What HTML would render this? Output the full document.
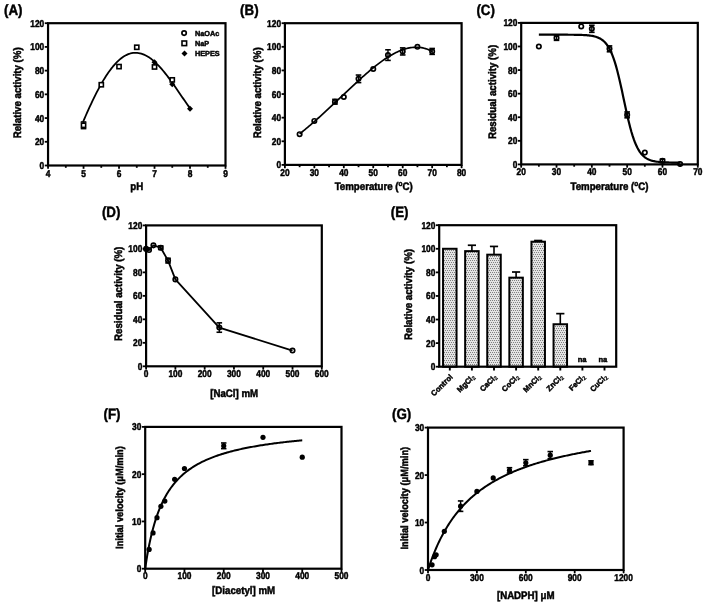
<!DOCTYPE html>
<html><head><meta charset="utf-8"><style>
html,body{margin:0;padding:0;background:#fff;}
svg{display:block;filter:blur(0.35px);text-rendering:geometricPrecision;}
text{font-family:"Liberation Sans",sans-serif;font-weight:bold;fill:#000;stroke:#000;stroke-width:0.45px;}
</style></head><body>
<svg width="706" height="604" viewBox="0 0 706 604">
<rect width="706" height="604" fill="#fff"/>
<text transform="translate(4,14.9) scale(0.92,1.02)" font-size="14.5">(A)</text>
<path d="M83.01 122.02 L84.36 118.87 L85.72 115.75 L87.07 112.68 L88.43 109.66 L89.78 106.69 L91.13 103.77 L92.49 100.91 L93.84 98.11 L95.2 95.37 L96.55 92.7 L97.91 90.09 L99.26 87.56 L100.62 85.11 L101.97 82.73 L103.32 80.42 L104.68 78.2 L106.03 76.07 L107.39 74.02 L108.74 72.05 L110.1 70.18 L111.45 68.39 L112.81 66.7 L114.16 65.1 L115.51 63.6 L116.87 62.19 L118.22 60.88 L119.58 59.66 L120.93 58.54 L122.29 57.52 L123.64 56.6 L125 55.78 L126.35 55.06 L127.7 54.44 L129.06 53.92 L130.41 53.49 L131.77 53.17 L133.12 52.95 L134.48 52.82 L135.83 52.79 L137.19 52.86 L138.54 53.02 L139.89 53.28 L141.25 53.63 L142.6 54.07 L143.96 54.6 L145.31 55.23 L146.67 55.94 L148.02 56.73 L149.38 57.61 L150.73 58.57 L152.09 59.61 L153.44 60.73 L154.79 61.92 L156.15 63.19 L157.5 64.52 L158.86 65.93 L160.21 67.39 L161.57 68.92 L162.92 70.5 L164.28 72.14 L165.63 73.83 L166.98 75.56 L168.34 77.34 L169.69 79.16 L171.05 81.02 L172.4 82.9 L173.76 84.82 L175.11 86.76 L176.47 88.71 L177.82 90.68 L179.17 92.67 L180.53 94.65 L181.88 96.64 L183.24 98.62 L184.59 100.59 L185.95 102.54 L187.3 104.48 L188.66 106.38 L190.01 108.26" fill="none" stroke="#000" stroke-width="1.8" stroke-linejoin="round"/>
<line x1="83.54" y1="128.62" x2="83.54" y2="121.98" stroke="#000" stroke-width="1.4"/>
<line x1="80.74" y1="128.62" x2="86.34" y2="128.62" stroke="#000" stroke-width="1.6"/>
<line x1="80.74" y1="121.98" x2="86.34" y2="121.98" stroke="#000" stroke-width="1.6"/>
<rect x="81.44" y="123.2" width="4.2" height="4.2" fill="#fff" stroke="#000" stroke-width="1.6"/>
<rect x="99.19" y="82.64" width="4.2" height="4.2" fill="#fff" stroke="#000" stroke-width="1.6"/>
<rect x="116.93" y="64.5" width="4.2" height="4.2" fill="#fff" stroke="#000" stroke-width="1.6"/>
<rect x="134.67" y="45.17" width="4.2" height="4.2" fill="#fff" stroke="#000" stroke-width="1.6"/>
<rect x="152.42" y="64.86" width="4.2" height="4.2" fill="#fff" stroke="#000" stroke-width="1.6"/>
<rect x="170.16" y="77.78" width="4.2" height="4.2" fill="#fff" stroke="#000" stroke-width="1.6"/>
<path d="M154.52 59.33L157.52 62.33L154.52 65.33L151.52 62.33Z" fill="#000"/>
<path d="M172.26 81.15L175.26 84.15L172.26 87.15L169.26 84.15Z" fill="#000"/>
<path d="M190.01 105.82L193.01 108.82L190.01 111.82L187.01 108.82Z" fill="#000"/>
<rect x="48.05" y="23.2" width="177.45" height="142.3" fill="none" stroke="#000" stroke-width="2.2"/>
<line x1="44.75" y1="165.5" x2="48.05" y2="165.5" stroke="#000" stroke-width="1.8"/>
<text transform="translate(44.25,169) scale(0.93,1.1)" font-size="9.0" text-anchor="end">0</text>
<line x1="44.75" y1="141.78" x2="48.05" y2="141.78" stroke="#000" stroke-width="1.8"/>
<text transform="translate(44.25,145.28) scale(0.93,1.1)" font-size="9.0" text-anchor="end">20</text>
<line x1="44.75" y1="118.07" x2="48.05" y2="118.07" stroke="#000" stroke-width="1.8"/>
<text transform="translate(44.25,121.57) scale(0.93,1.1)" font-size="9.0" text-anchor="end">40</text>
<line x1="44.75" y1="94.35" x2="48.05" y2="94.35" stroke="#000" stroke-width="1.8"/>
<text transform="translate(44.25,97.85) scale(0.93,1.1)" font-size="9.0" text-anchor="end">60</text>
<line x1="44.75" y1="70.63" x2="48.05" y2="70.63" stroke="#000" stroke-width="1.8"/>
<text transform="translate(44.25,74.13) scale(0.93,1.1)" font-size="9.0" text-anchor="end">80</text>
<line x1="44.75" y1="46.92" x2="48.05" y2="46.92" stroke="#000" stroke-width="1.8"/>
<text transform="translate(44.25,50.42) scale(0.93,1.1)" font-size="9.0" text-anchor="end">100</text>
<line x1="44.75" y1="23.2" x2="48.05" y2="23.2" stroke="#000" stroke-width="1.8"/>
<text transform="translate(44.25,26.7) scale(0.93,1.1)" font-size="9.0" text-anchor="end">120</text>
<line x1="48.05" y1="165.5" x2="48.05" y2="168.8" stroke="#000" stroke-width="1.8"/>
<text transform="translate(48.05,177.2) scale(0.93,1.1)" font-size="9.0" text-anchor="middle">4</text>
<line x1="83.54" y1="165.5" x2="83.54" y2="168.8" stroke="#000" stroke-width="1.8"/>
<text transform="translate(83.54,177.2) scale(0.93,1.1)" font-size="9.0" text-anchor="middle">5</text>
<line x1="119.03" y1="165.5" x2="119.03" y2="168.8" stroke="#000" stroke-width="1.8"/>
<text transform="translate(119.03,177.2) scale(0.93,1.1)" font-size="9.0" text-anchor="middle">6</text>
<line x1="154.52" y1="165.5" x2="154.52" y2="168.8" stroke="#000" stroke-width="1.8"/>
<text transform="translate(154.52,177.2) scale(0.93,1.1)" font-size="9.0" text-anchor="middle">7</text>
<line x1="190.01" y1="165.5" x2="190.01" y2="168.8" stroke="#000" stroke-width="1.8"/>
<text transform="translate(190.01,177.2) scale(0.93,1.1)" font-size="9.0" text-anchor="middle">8</text>
<line x1="225.5" y1="165.5" x2="225.5" y2="168.8" stroke="#000" stroke-width="1.8"/>
<text transform="translate(225.5,177.2) scale(0.93,1.1)" font-size="9.0" text-anchor="middle">9</text>
<line x1="65.8" y1="165.5" x2="65.8" y2="167.8" stroke="#000" stroke-width="1.8"/>
<line x1="101.28" y1="165.5" x2="101.28" y2="167.8" stroke="#000" stroke-width="1.8"/>
<line x1="136.77" y1="165.5" x2="136.77" y2="167.8" stroke="#000" stroke-width="1.8"/>
<line x1="172.26" y1="165.5" x2="172.26" y2="167.8" stroke="#000" stroke-width="1.8"/>
<line x1="207.75" y1="165.5" x2="207.75" y2="167.8" stroke="#000" stroke-width="1.8"/>
<text transform="translate(21.2,92.8) rotate(-90) scale(1,1.12)" font-size="9.7" text-anchor="middle">Relative activity (%)</text>
<text transform="translate(136.8,189.9) scale(1,1.12)" font-size="9.7" text-anchor="middle">pH</text>
<circle cx="184.1" cy="33.1" r="2.2" fill="none" stroke="#000" stroke-width="1.7"/>
<rect x="182" y="41" width="4.6" height="4.6" fill="none" stroke="#000" stroke-width="1.6"/>
<path d="M184.5 50.5L187.5 53.5L184.5 56.5L181.5 53.5Z" fill="#000"/>
<text x="194.9" y="35.8" font-size="7.3">NaOAc</text>
<text x="194.9" y="45.9" font-size="7.3">NaP</text>
<text x="194.9" y="56.0" font-size="7.3">HEPES</text>
<text transform="translate(240.1,15) scale(0.92,1.02)" font-size="14.5">(B)</text>
<path d="M299.62 133.93 L300.96 132.85 L302.3 131.76 L303.64 130.67 L304.98 129.56 L306.32 128.45 L307.66 127.32 L309 126.19 L310.33 125.04 L311.67 123.89 L313.01 122.73 L314.35 121.56 L315.69 120.39 L317.03 119.2 L318.37 118.01 L319.7 116.81 L321.04 115.6 L322.38 114.39 L323.72 113.17 L325.06 111.94 L326.4 110.71 L327.74 109.47 L329.07 108.23 L330.41 106.98 L331.75 105.73 L333.09 104.47 L334.43 103.22 L335.77 101.95 L337.11 100.69 L338.45 99.43 L339.78 98.16 L341.12 96.89 L342.46 95.62 L343.8 94.35 L345.14 93.09 L346.48 91.82 L347.82 90.56 L349.15 89.3 L350.49 88.04 L351.83 86.78 L353.17 85.53 L354.51 84.29 L355.85 83.05 L357.19 81.82 L358.52 80.59 L359.86 79.37 L361.2 78.17 L362.54 76.97 L363.88 75.78 L365.22 74.6 L366.56 73.43 L367.9 72.28 L369.23 71.14 L370.57 70.01 L371.91 68.9 L373.25 67.81 L374.59 66.73 L375.93 65.67 L377.27 64.63 L378.6 63.61 L379.94 62.6 L381.28 61.62 L382.62 60.67 L383.96 59.73 L385.3 58.83 L386.64 57.94 L387.98 57.09 L389.31 56.26 L390.65 55.46 L391.99 54.69 L393.33 53.95 L394.67 53.24 L396.01 52.57 L397.35 51.93 L398.68 51.32 L400.02 50.75 L401.36 50.22 L402.7 49.73 L404.04 49.28 L405.38 48.87 L406.72 48.51 L408.05 48.18 L409.39 47.91 L410.73 47.68 L412.07 47.49 L413.41 47.36 L414.75 47.28 L416.09 47.25 L417.43 47.27 L418.76 47.35 L420.1 47.48 L421.44 47.67 L422.78 47.92 L424.12 48.23 L425.46 48.6 L426.8 49.03 L428.13 49.53 L429.47 50.1 L430.81 50.73 L432.15 51.44" fill="none" stroke="#000" stroke-width="1.7" stroke-linejoin="round"/>
<circle cx="299.62" cy="134.2" r="2.2" fill="none" stroke="#000" stroke-width="1.7"/>
<circle cx="314.35" cy="120.97" r="2.2" fill="none" stroke="#000" stroke-width="1.7"/>
<line x1="334.96" y1="104.09" x2="334.96" y2="99.36" stroke="#000" stroke-width="1.4"/>
<line x1="332.16" y1="104.09" x2="337.76" y2="104.09" stroke="#000" stroke-width="1.6"/>
<line x1="332.16" y1="99.36" x2="337.76" y2="99.36" stroke="#000" stroke-width="1.6"/>
<circle cx="334.96" cy="101.73" r="2.2" fill="none" stroke="#000" stroke-width="1.7"/>
<circle cx="343.8" cy="97" r="2.2" fill="none" stroke="#000" stroke-width="1.7"/>
<line x1="358.52" y1="82.6" x2="358.52" y2="75.04" stroke="#000" stroke-width="1.4"/>
<line x1="355.72" y1="82.6" x2="361.32" y2="82.6" stroke="#000" stroke-width="1.6"/>
<line x1="355.72" y1="75.04" x2="361.32" y2="75.04" stroke="#000" stroke-width="1.6"/>
<circle cx="358.52" cy="78.82" r="2.2" fill="none" stroke="#000" stroke-width="1.7"/>
<circle cx="373.25" cy="69.02" r="2.2" fill="none" stroke="#000" stroke-width="1.7"/>
<line x1="387.98" y1="60.4" x2="387.98" y2="49.77" stroke="#000" stroke-width="1.4"/>
<line x1="385.18" y1="60.4" x2="390.78" y2="60.4" stroke="#000" stroke-width="1.6"/>
<line x1="385.18" y1="49.77" x2="390.78" y2="49.77" stroke="#000" stroke-width="1.6"/>
<circle cx="387.98" cy="55.08" r="2.2" fill="none" stroke="#000" stroke-width="1.7"/>
<line x1="402.7" y1="54.96" x2="402.7" y2="47.88" stroke="#000" stroke-width="1.4"/>
<line x1="399.9" y1="54.96" x2="405.5" y2="54.96" stroke="#000" stroke-width="1.6"/>
<line x1="399.9" y1="47.88" x2="405.5" y2="47.88" stroke="#000" stroke-width="1.6"/>
<circle cx="402.7" cy="51.42" r="2.2" fill="none" stroke="#000" stroke-width="1.7"/>
<circle cx="417.43" cy="46.82" r="2.2" fill="none" stroke="#000" stroke-width="1.7"/>
<line x1="432.15" y1="54.37" x2="432.15" y2="48.47" stroke="#000" stroke-width="1.4"/>
<line x1="429.35" y1="54.37" x2="434.95" y2="54.37" stroke="#000" stroke-width="1.6"/>
<line x1="429.35" y1="48.47" x2="434.95" y2="48.47" stroke="#000" stroke-width="1.6"/>
<circle cx="432.15" cy="51.42" r="2.2" fill="none" stroke="#000" stroke-width="1.7"/>
<rect x="284.9" y="23.2" width="176.7" height="141.7" fill="none" stroke="#000" stroke-width="2.2"/>
<line x1="281.6" y1="164.9" x2="284.9" y2="164.9" stroke="#000" stroke-width="1.8"/>
<text transform="translate(281.1,168.4) scale(0.93,1.1)" font-size="9.0" text-anchor="end">0</text>
<line x1="281.6" y1="141.28" x2="284.9" y2="141.28" stroke="#000" stroke-width="1.8"/>
<text transform="translate(281.1,144.78) scale(0.93,1.1)" font-size="9.0" text-anchor="end">20</text>
<line x1="281.6" y1="117.67" x2="284.9" y2="117.67" stroke="#000" stroke-width="1.8"/>
<text transform="translate(281.1,121.17) scale(0.93,1.1)" font-size="9.0" text-anchor="end">40</text>
<line x1="281.6" y1="94.05" x2="284.9" y2="94.05" stroke="#000" stroke-width="1.8"/>
<text transform="translate(281.1,97.55) scale(0.93,1.1)" font-size="9.0" text-anchor="end">60</text>
<line x1="281.6" y1="70.43" x2="284.9" y2="70.43" stroke="#000" stroke-width="1.8"/>
<text transform="translate(281.1,73.93) scale(0.93,1.1)" font-size="9.0" text-anchor="end">80</text>
<line x1="281.6" y1="46.82" x2="284.9" y2="46.82" stroke="#000" stroke-width="1.8"/>
<text transform="translate(281.1,50.32) scale(0.93,1.1)" font-size="9.0" text-anchor="end">100</text>
<line x1="281.6" y1="23.2" x2="284.9" y2="23.2" stroke="#000" stroke-width="1.8"/>
<text transform="translate(281.1,26.7) scale(0.93,1.1)" font-size="9.0" text-anchor="end">120</text>
<line x1="284.9" y1="164.9" x2="284.9" y2="168.2" stroke="#000" stroke-width="1.8"/>
<text transform="translate(284.9,175.9) scale(0.93,1.1)" font-size="9.0" text-anchor="middle">20</text>
<line x1="314.35" y1="164.9" x2="314.35" y2="168.2" stroke="#000" stroke-width="1.8"/>
<text transform="translate(314.35,175.9) scale(0.93,1.1)" font-size="9.0" text-anchor="middle">30</text>
<line x1="343.8" y1="164.9" x2="343.8" y2="168.2" stroke="#000" stroke-width="1.8"/>
<text transform="translate(343.8,175.9) scale(0.93,1.1)" font-size="9.0" text-anchor="middle">40</text>
<line x1="373.25" y1="164.9" x2="373.25" y2="168.2" stroke="#000" stroke-width="1.8"/>
<text transform="translate(373.25,175.9) scale(0.93,1.1)" font-size="9.0" text-anchor="middle">50</text>
<line x1="402.7" y1="164.9" x2="402.7" y2="168.2" stroke="#000" stroke-width="1.8"/>
<text transform="translate(402.7,175.9) scale(0.93,1.1)" font-size="9.0" text-anchor="middle">60</text>
<line x1="432.15" y1="164.9" x2="432.15" y2="168.2" stroke="#000" stroke-width="1.8"/>
<text transform="translate(432.15,175.9) scale(0.93,1.1)" font-size="9.0" text-anchor="middle">70</text>
<line x1="461.6" y1="164.9" x2="461.6" y2="168.2" stroke="#000" stroke-width="1.8"/>
<text transform="translate(461.6,175.9) scale(0.93,1.1)" font-size="9.0" text-anchor="middle">80</text>
<line x1="299.62" y1="164.9" x2="299.62" y2="167.2" stroke="#000" stroke-width="1.8"/>
<line x1="329.07" y1="164.9" x2="329.07" y2="167.2" stroke="#000" stroke-width="1.8"/>
<line x1="358.52" y1="164.9" x2="358.52" y2="167.2" stroke="#000" stroke-width="1.8"/>
<line x1="387.98" y1="164.9" x2="387.98" y2="167.2" stroke="#000" stroke-width="1.8"/>
<line x1="417.43" y1="164.9" x2="417.43" y2="167.2" stroke="#000" stroke-width="1.8"/>
<line x1="446.88" y1="164.9" x2="446.88" y2="167.2" stroke="#000" stroke-width="1.8"/>
<text transform="translate(261,92.8) rotate(-90) scale(1,1.12)" font-size="9.7" text-anchor="middle">Relative activity (%)</text>
<text transform="translate(373.7,190.4) scale(1,1.12)" font-size="9.7" text-anchor="middle">Temperature (<tspan font-size="6.5" dy="-3.5">o</tspan><tspan dy="3.5">C)</tspan></text>
<text transform="translate(476.4,14.9) scale(0.92,1.02)" font-size="14.5">(C)</text>
<path d="M538.86 34.69 L540.05 34.69 L541.23 34.69 L542.42 34.69 L543.61 34.69 L544.8 34.69 L545.98 34.69 L547.17 34.69 L548.36 34.69 L549.55 34.69 L550.73 34.69 L551.92 34.69 L553.11 34.7 L554.29 34.7 L555.48 34.7 L556.67 34.7 L557.86 34.7 L559.04 34.7 L560.23 34.7 L561.42 34.7 L562.6 34.71 L563.79 34.71 L564.98 34.71 L566.17 34.72 L567.35 34.72 L568.54 34.73 L569.73 34.74 L570.92 34.75 L572.1 34.76 L573.29 34.77 L574.48 34.78 L575.66 34.8 L576.85 34.82 L578.04 34.85 L579.23 34.87 L580.41 34.91 L581.6 34.95 L582.79 35 L583.97 35.06 L585.16 35.13 L586.35 35.21 L587.54 35.31 L588.72 35.43 L589.91 35.57 L591.1 35.74 L592.29 35.94 L593.47 36.17 L594.66 36.45 L595.85 36.78 L597.03 37.18 L598.22 37.64 L599.41 38.19 L600.6 38.84 L601.78 39.6 L602.97 40.5 L604.16 41.55 L605.34 42.78 L606.53 44.21 L607.72 45.87 L608.91 47.79 L610.09 50 L611.28 52.52 L612.47 55.38 L613.66 58.6 L614.84 62.19 L616.03 66.16 L617.22 70.49 L618.4 75.17 L619.59 80.17 L620.78 85.42 L621.97 90.86 L623.15 96.42 L624.34 102.02 L625.53 107.56 L626.71 112.97 L627.9 118.18 L629.09 123.11 L630.28 127.73 L631.46 131.99 L632.65 135.88 L633.84 139.4 L635.03 142.54 L636.21 145.33 L637.4 147.79 L638.59 149.94 L639.77 151.8 L640.96 153.42 L642.15 154.81 L643.34 156 L644.52 157.02 L645.71 157.88 L646.9 158.62 L648.08 159.25 L649.27 159.78 L650.46 160.23 L651.65 160.61 L652.83 160.93 L654.02 161.2 L655.21 161.43 L656.4 161.62 L657.58 161.78 L658.77 161.92 L659.96 162.03 L661.14 162.13 L662.33 162.21 L663.52 162.28 L664.71 162.33 L665.89 162.38 L667.08 162.42 L668.27 162.45 L669.45 162.48 L670.64 162.51 L671.83 162.53 L673.02 162.54 L674.2 162.56 L675.39 162.57 L676.58 162.58 L677.77 162.59 L678.95 162.59 L680.14 162.6" fill="none" stroke="#000" stroke-width="2.2" stroke-linejoin="round"/>
<circle cx="538.86" cy="46.48" r="2.2" fill="none" stroke="#000" stroke-width="1.7"/>
<line x1="556.52" y1="40.35" x2="556.52" y2="35.63" stroke="#000" stroke-width="1.4"/>
<line x1="553.72" y1="40.35" x2="559.32" y2="40.35" stroke="#000" stroke-width="1.6"/>
<line x1="553.72" y1="35.63" x2="559.32" y2="35.63" stroke="#000" stroke-width="1.6"/>
<circle cx="556.52" cy="37.99" r="2.2" fill="none" stroke="#000" stroke-width="1.7"/>
<circle cx="581.24" cy="26.44" r="2.2" fill="none" stroke="#000" stroke-width="1.7"/>
<line x1="591.84" y1="32.33" x2="591.84" y2="25.26" stroke="#000" stroke-width="1.4"/>
<line x1="589.04" y1="32.33" x2="594.64" y2="32.33" stroke="#000" stroke-width="1.6"/>
<line x1="589.04" y1="25.26" x2="594.64" y2="25.26" stroke="#000" stroke-width="1.6"/>
<circle cx="591.84" cy="28.8" r="2.2" fill="none" stroke="#000" stroke-width="1.7"/>
<line x1="609.5" y1="51.79" x2="609.5" y2="45.89" stroke="#000" stroke-width="1.4"/>
<line x1="606.7" y1="51.79" x2="612.3" y2="51.79" stroke="#000" stroke-width="1.6"/>
<line x1="606.7" y1="45.89" x2="612.3" y2="45.89" stroke="#000" stroke-width="1.6"/>
<circle cx="609.5" cy="48.84" r="2.2" fill="none" stroke="#000" stroke-width="1.7"/>
<line x1="627.16" y1="117.82" x2="627.16" y2="111.93" stroke="#000" stroke-width="1.4"/>
<line x1="624.36" y1="117.82" x2="629.96" y2="117.82" stroke="#000" stroke-width="1.6"/>
<line x1="624.36" y1="111.93" x2="629.96" y2="111.93" stroke="#000" stroke-width="1.6"/>
<circle cx="627.16" cy="114.88" r="2.2" fill="none" stroke="#000" stroke-width="1.7"/>
<circle cx="644.82" cy="152.61" r="2.2" fill="none" stroke="#000" stroke-width="1.7"/>
<line x1="662.48" y1="162.63" x2="662.48" y2="159.09" stroke="#000" stroke-width="1.4"/>
<line x1="659.68" y1="162.63" x2="665.28" y2="162.63" stroke="#000" stroke-width="1.6"/>
<line x1="659.68" y1="159.09" x2="665.28" y2="159.09" stroke="#000" stroke-width="1.6"/>
<circle cx="662.48" cy="160.86" r="2.2" fill="none" stroke="#000" stroke-width="1.7"/>
<circle cx="680.14" cy="164.05" r="2.2" fill="none" stroke="#000" stroke-width="1.7"/>
<rect x="521.2" y="22.9" width="176.6" height="141.5" fill="none" stroke="#000" stroke-width="2.2"/>
<line x1="517.9" y1="164.4" x2="521.2" y2="164.4" stroke="#000" stroke-width="1.8"/>
<text transform="translate(517.4,167.9) scale(0.93,1.1)" font-size="9.0" text-anchor="end">0</text>
<line x1="517.9" y1="140.82" x2="521.2" y2="140.82" stroke="#000" stroke-width="1.8"/>
<text transform="translate(517.4,144.32) scale(0.93,1.1)" font-size="9.0" text-anchor="end">20</text>
<line x1="517.9" y1="117.23" x2="521.2" y2="117.23" stroke="#000" stroke-width="1.8"/>
<text transform="translate(517.4,120.73) scale(0.93,1.1)" font-size="9.0" text-anchor="end">40</text>
<line x1="517.9" y1="93.65" x2="521.2" y2="93.65" stroke="#000" stroke-width="1.8"/>
<text transform="translate(517.4,97.15) scale(0.93,1.1)" font-size="9.0" text-anchor="end">60</text>
<line x1="517.9" y1="70.07" x2="521.2" y2="70.07" stroke="#000" stroke-width="1.8"/>
<text transform="translate(517.4,73.57) scale(0.93,1.1)" font-size="9.0" text-anchor="end">80</text>
<line x1="517.9" y1="46.48" x2="521.2" y2="46.48" stroke="#000" stroke-width="1.8"/>
<text transform="translate(517.4,49.98) scale(0.93,1.1)" font-size="9.0" text-anchor="end">100</text>
<line x1="517.9" y1="22.9" x2="521.2" y2="22.9" stroke="#000" stroke-width="1.8"/>
<text transform="translate(517.4,26.4) scale(0.93,1.1)" font-size="9.0" text-anchor="end">120</text>
<line x1="521.2" y1="164.4" x2="521.2" y2="167.7" stroke="#000" stroke-width="1.8"/>
<text transform="translate(521.2,175.2) scale(0.93,1.1)" font-size="9.0" text-anchor="middle">20</text>
<line x1="556.52" y1="164.4" x2="556.52" y2="167.7" stroke="#000" stroke-width="1.8"/>
<text transform="translate(556.52,175.2) scale(0.93,1.1)" font-size="9.0" text-anchor="middle">30</text>
<line x1="591.84" y1="164.4" x2="591.84" y2="167.7" stroke="#000" stroke-width="1.8"/>
<text transform="translate(591.84,175.2) scale(0.93,1.1)" font-size="9.0" text-anchor="middle">40</text>
<line x1="627.16" y1="164.4" x2="627.16" y2="167.7" stroke="#000" stroke-width="1.8"/>
<text transform="translate(627.16,175.2) scale(0.93,1.1)" font-size="9.0" text-anchor="middle">50</text>
<line x1="662.48" y1="164.4" x2="662.48" y2="167.7" stroke="#000" stroke-width="1.8"/>
<text transform="translate(662.48,175.2) scale(0.93,1.1)" font-size="9.0" text-anchor="middle">60</text>
<line x1="697.8" y1="164.4" x2="697.8" y2="167.7" stroke="#000" stroke-width="1.8"/>
<text transform="translate(697.8,175.2) scale(0.93,1.1)" font-size="9.0" text-anchor="middle">70</text>
<line x1="538.86" y1="164.4" x2="538.86" y2="166.7" stroke="#000" stroke-width="1.8"/>
<line x1="574.18" y1="164.4" x2="574.18" y2="166.7" stroke="#000" stroke-width="1.8"/>
<line x1="609.5" y1="164.4" x2="609.5" y2="166.7" stroke="#000" stroke-width="1.8"/>
<line x1="644.82" y1="164.4" x2="644.82" y2="166.7" stroke="#000" stroke-width="1.8"/>
<line x1="680.14" y1="164.4" x2="680.14" y2="166.7" stroke="#000" stroke-width="1.8"/>
<text transform="translate(496.2,92) rotate(-90) scale(1,1.12)" font-size="9.7" text-anchor="middle">Residual activity (%)</text>
<text transform="translate(609.5,189.8) scale(1,1.12)" font-size="9.7" text-anchor="middle">Temperature (<tspan font-size="6.5" dy="-3.5">o</tspan><tspan dy="3.5">C)</tspan></text>
<text transform="translate(101.9,216.7) scale(0.92,1.02)" font-size="14.5">(D)</text>
<path d="M146.1 248.88 L149.03 250.06 L153.42 245.36 L160.74 247.71 L168.06 260.62 L175.38 279.41 L219.31 327.55 L292.52 350.57" fill="none" stroke="#000" stroke-width="1.8" stroke-linejoin="round"/>
<circle cx="146.1" cy="248.88" r="2.2" fill="none" stroke="#000" stroke-width="1.7"/>
<circle cx="149.03" cy="250.06" r="2.2" fill="none" stroke="#000" stroke-width="1.7"/>
<circle cx="153.42" cy="245.36" r="2.2" fill="none" stroke="#000" stroke-width="1.7"/>
<line x1="160.74" y1="249.47" x2="160.74" y2="245.95" stroke="#000" stroke-width="1.4"/>
<line x1="157.94" y1="249.47" x2="163.54" y2="249.47" stroke="#000" stroke-width="1.6"/>
<line x1="157.94" y1="245.95" x2="163.54" y2="245.95" stroke="#000" stroke-width="1.6"/>
<circle cx="160.74" cy="247.71" r="2.2" fill="none" stroke="#000" stroke-width="1.7"/>
<line x1="168.06" y1="262.97" x2="168.06" y2="258.28" stroke="#000" stroke-width="1.4"/>
<line x1="165.26" y1="262.97" x2="170.86" y2="262.97" stroke="#000" stroke-width="1.6"/>
<line x1="165.26" y1="258.28" x2="170.86" y2="258.28" stroke="#000" stroke-width="1.6"/>
<circle cx="168.06" cy="260.62" r="2.2" fill="none" stroke="#000" stroke-width="1.7"/>
<circle cx="175.38" cy="279.41" r="2.2" fill="none" stroke="#000" stroke-width="1.7"/>
<line x1="219.31" y1="332.25" x2="219.31" y2="322.86" stroke="#000" stroke-width="1.4"/>
<line x1="216.51" y1="332.25" x2="222.11" y2="332.25" stroke="#000" stroke-width="1.6"/>
<line x1="216.51" y1="322.86" x2="222.11" y2="322.86" stroke="#000" stroke-width="1.6"/>
<circle cx="219.31" cy="327.55" r="2.2" fill="none" stroke="#000" stroke-width="1.7"/>
<circle cx="292.52" cy="350.57" r="2.2" fill="none" stroke="#000" stroke-width="1.7"/>
<rect x="146.1" y="225.4" width="175.7" height="140.9" fill="none" stroke="#000" stroke-width="2.2"/>
<line x1="142.8" y1="366.3" x2="146.1" y2="366.3" stroke="#000" stroke-width="1.8"/>
<text transform="translate(142.3,369.8) scale(0.93,1.1)" font-size="9.0" text-anchor="end">0</text>
<line x1="142.8" y1="342.82" x2="146.1" y2="342.82" stroke="#000" stroke-width="1.8"/>
<text transform="translate(142.3,346.32) scale(0.93,1.1)" font-size="9.0" text-anchor="end">20</text>
<line x1="142.8" y1="319.33" x2="146.1" y2="319.33" stroke="#000" stroke-width="1.8"/>
<text transform="translate(142.3,322.83) scale(0.93,1.1)" font-size="9.0" text-anchor="end">40</text>
<line x1="142.8" y1="295.85" x2="146.1" y2="295.85" stroke="#000" stroke-width="1.8"/>
<text transform="translate(142.3,299.35) scale(0.93,1.1)" font-size="9.0" text-anchor="end">60</text>
<line x1="142.8" y1="272.37" x2="146.1" y2="272.37" stroke="#000" stroke-width="1.8"/>
<text transform="translate(142.3,275.87) scale(0.93,1.1)" font-size="9.0" text-anchor="end">80</text>
<line x1="142.8" y1="248.88" x2="146.1" y2="248.88" stroke="#000" stroke-width="1.8"/>
<text transform="translate(142.3,252.38) scale(0.93,1.1)" font-size="9.0" text-anchor="end">100</text>
<line x1="142.8" y1="225.4" x2="146.1" y2="225.4" stroke="#000" stroke-width="1.8"/>
<text transform="translate(142.3,228.9) scale(0.93,1.1)" font-size="9.0" text-anchor="end">120</text>
<line x1="146.1" y1="366.3" x2="146.1" y2="369.6" stroke="#000" stroke-width="1.8"/>
<text transform="translate(146.1,377) scale(0.93,1.1)" font-size="9.0" text-anchor="middle">0</text>
<line x1="175.38" y1="366.3" x2="175.38" y2="369.6" stroke="#000" stroke-width="1.8"/>
<text transform="translate(175.38,377) scale(0.93,1.1)" font-size="9.0" text-anchor="middle">100</text>
<line x1="204.67" y1="366.3" x2="204.67" y2="369.6" stroke="#000" stroke-width="1.8"/>
<text transform="translate(204.67,377) scale(0.93,1.1)" font-size="9.0" text-anchor="middle">200</text>
<line x1="233.95" y1="366.3" x2="233.95" y2="369.6" stroke="#000" stroke-width="1.8"/>
<text transform="translate(233.95,377) scale(0.93,1.1)" font-size="9.0" text-anchor="middle">300</text>
<line x1="263.23" y1="366.3" x2="263.23" y2="369.6" stroke="#000" stroke-width="1.8"/>
<text transform="translate(263.23,377) scale(0.93,1.1)" font-size="9.0" text-anchor="middle">400</text>
<line x1="292.52" y1="366.3" x2="292.52" y2="369.6" stroke="#000" stroke-width="1.8"/>
<text transform="translate(292.52,377) scale(0.93,1.1)" font-size="9.0" text-anchor="middle">500</text>
<line x1="321.8" y1="366.3" x2="321.8" y2="369.6" stroke="#000" stroke-width="1.8"/>
<text transform="translate(321.8,377) scale(0.93,1.1)" font-size="9.0" text-anchor="middle">600</text>
<text transform="translate(121.6,293.8) rotate(-90) scale(1,1.12)" font-size="9.7" text-anchor="middle">Residual activity (%)</text>
<text transform="translate(234.2,396.9) scale(1,1.12)" font-size="9.7" text-anchor="middle">[NaCl] mM</text>
<text transform="translate(390.7,217.1) scale(0.92,1.02)" font-size="14.5">(E)</text>
<defs><pattern id="dots" width="2" height="4" patternUnits="userSpaceOnUse"><rect width="2" height="4" fill="#e4e4e4"/><rect x="0" y="0" width="1" height="1" fill="#808080"/><rect x="1" y="2" width="1" height="1" fill="#808080"/></pattern></defs>
<rect x="443.05" y="248.78" width="13.5" height="117.92" fill="url(#dots)" stroke="#000" stroke-width="2.0"/>
<line x1="471.9" y1="251.14" x2="471.9" y2="245.25" stroke="#000" stroke-width="1.6"/>
<line x1="467.8" y1="245.25" x2="476" y2="245.25" stroke="#000" stroke-width="1.7"/>
<rect x="465.15" y="251.14" width="13.5" height="115.56" fill="url(#dots)" stroke="#000" stroke-width="2.0"/>
<line x1="494" y1="254.68" x2="494" y2="246.43" stroke="#000" stroke-width="1.6"/>
<line x1="489.9" y1="246.43" x2="498.1" y2="246.43" stroke="#000" stroke-width="1.7"/>
<rect x="487.25" y="254.68" width="13.5" height="112.02" fill="url(#dots)" stroke="#000" stroke-width="2.0"/>
<line x1="516.1" y1="277.67" x2="516.1" y2="272.01" stroke="#000" stroke-width="1.6"/>
<line x1="512" y1="272.01" x2="520.2" y2="272.01" stroke="#000" stroke-width="1.7"/>
<rect x="509.35" y="277.67" width="13.5" height="89.03" fill="url(#dots)" stroke="#000" stroke-width="2.0"/>
<line x1="538.2" y1="241.71" x2="538.2" y2="240.53" stroke="#000" stroke-width="1.6"/>
<line x1="534.1" y1="240.53" x2="542.3" y2="240.53" stroke="#000" stroke-width="1.7"/>
<rect x="531.45" y="241.71" width="13.5" height="124.99" fill="url(#dots)" stroke="#000" stroke-width="2.0"/>
<line x1="560.3" y1="324.25" x2="560.3" y2="313.64" stroke="#000" stroke-width="1.6"/>
<line x1="556.2" y1="313.64" x2="564.4" y2="313.64" stroke="#000" stroke-width="1.7"/>
<rect x="553.55" y="324.25" width="13.5" height="42.45" fill="url(#dots)" stroke="#000" stroke-width="2.0"/>
<text x="582.1" y="361.9" font-size="7.6" text-anchor="middle">na</text>
<text x="602.9" y="361.9" font-size="7.6" text-anchor="middle">na</text>
<rect x="439.2" y="225.2" width="177" height="141.5" fill="none" stroke="#000" stroke-width="2.2"/>
<line x1="435.9" y1="366.7" x2="439.2" y2="366.7" stroke="#000" stroke-width="1.8"/>
<text transform="translate(435.4,370.2) scale(0.93,1.1)" font-size="9.0" text-anchor="end">0</text>
<line x1="435.9" y1="343.12" x2="439.2" y2="343.12" stroke="#000" stroke-width="1.8"/>
<text transform="translate(435.4,346.62) scale(0.93,1.1)" font-size="9.0" text-anchor="end">20</text>
<line x1="435.9" y1="319.53" x2="439.2" y2="319.53" stroke="#000" stroke-width="1.8"/>
<text transform="translate(435.4,323.03) scale(0.93,1.1)" font-size="9.0" text-anchor="end">40</text>
<line x1="435.9" y1="295.95" x2="439.2" y2="295.95" stroke="#000" stroke-width="1.8"/>
<text transform="translate(435.4,299.45) scale(0.93,1.1)" font-size="9.0" text-anchor="end">60</text>
<line x1="435.9" y1="272.37" x2="439.2" y2="272.37" stroke="#000" stroke-width="1.8"/>
<text transform="translate(435.4,275.87) scale(0.93,1.1)" font-size="9.0" text-anchor="end">80</text>
<line x1="435.9" y1="248.78" x2="439.2" y2="248.78" stroke="#000" stroke-width="1.8"/>
<text transform="translate(435.4,252.28) scale(0.93,1.1)" font-size="9.0" text-anchor="end">100</text>
<line x1="435.9" y1="225.2" x2="439.2" y2="225.2" stroke="#000" stroke-width="1.8"/>
<text transform="translate(435.4,228.7) scale(0.93,1.1)" font-size="9.0" text-anchor="end">120</text>
<line x1="449.8" y1="366.7" x2="449.8" y2="370.5" stroke="#000" stroke-width="1.9"/>
<line x1="471.9" y1="366.7" x2="471.9" y2="370.5" stroke="#000" stroke-width="1.9"/>
<line x1="494" y1="366.7" x2="494" y2="370.5" stroke="#000" stroke-width="1.9"/>
<line x1="516.1" y1="366.7" x2="516.1" y2="370.5" stroke="#000" stroke-width="1.9"/>
<line x1="538.2" y1="366.7" x2="538.2" y2="370.5" stroke="#000" stroke-width="1.9"/>
<line x1="560.3" y1="366.7" x2="560.3" y2="370.5" stroke="#000" stroke-width="1.9"/>
<line x1="582.4" y1="366.7" x2="582.4" y2="370.5" stroke="#000" stroke-width="1.9"/>
<line x1="604.5" y1="366.7" x2="604.5" y2="370.5" stroke="#000" stroke-width="1.9"/>
<text transform="translate(453.2,377.5) rotate(-45)" font-size="7.6" text-anchor="end">Control</text>
<text transform="translate(475.3,377.5) rotate(-45)" font-size="7.6" text-anchor="end">MgCl<tspan font-size="5.6" dy="1.2" style="stroke-width:0.2px">2</tspan></text>
<text transform="translate(497.4,377.5) rotate(-45)" font-size="7.6" text-anchor="end">CaCl<tspan font-size="5.6" dy="1.2" style="stroke-width:0.2px">2</tspan></text>
<text transform="translate(519.5,377.5) rotate(-45)" font-size="7.6" text-anchor="end">CoCl<tspan font-size="5.6" dy="1.2" style="stroke-width:0.2px">2</tspan></text>
<text transform="translate(541.6,377.5) rotate(-45)" font-size="7.6" text-anchor="end">MnCl<tspan font-size="5.6" dy="1.2" style="stroke-width:0.2px">2</tspan></text>
<text transform="translate(563.7,377.5) rotate(-45)" font-size="7.6" text-anchor="end">ZnCl<tspan font-size="5.6" dy="1.2" style="stroke-width:0.2px">2</tspan></text>
<text transform="translate(585.8,377.5) rotate(-45)" font-size="7.6" text-anchor="end">FeCl<tspan font-size="5.6" dy="1.2" style="stroke-width:0.2px">2</tspan></text>
<text transform="translate(607.9,377.5) rotate(-45)" font-size="7.6" text-anchor="end">CuCl<tspan font-size="5.6" dy="1.2" style="stroke-width:0.2px">2</tspan></text>
<text transform="translate(411.8,294.5) rotate(-90) scale(1,1.12)" font-size="9.7" text-anchor="middle">Relative activity (%)</text>
<text transform="translate(103.5,418.7) scale(0.92,1.02)" font-size="14.5">(F)</text>
<path d="M145.2 568.7 L145.4 567.28 L145.6 565.89 L145.8 564.53 L146.01 563.19 L146.21 561.88 L146.41 560.59 L146.61 559.33 L146.81 558.09 L147.01 556.87 L147.21 555.67 L147.41 554.5 L147.62 553.34 L147.82 552.21 L148.02 551.1 L148.22 550 L148.42 548.92 L148.62 547.87 L148.82 546.82 L149.03 545.8 L149.23 544.79 L149.43 543.8 L149.63 542.83 L149.83 541.87 L150.03 540.93 L150.23 540 L150.43 539.09 L150.64 538.19 L150.84 537.3 L151.04 536.43 L151.24 535.57 L151.44 534.72 L151.64 533.89 L151.84 533.07 L152.05 532.26 L152.25 531.47 L152.45 530.68 L152.65 529.91 L152.85 529.14 L153.05 528.39 L153.05 528.39 L154.31 523.94 L155.56 519.85 L156.81 516.09 L158.07 512.6 L159.32 509.37 L160.57 506.37 L161.83 503.56 L163.08 500.95 L164.34 498.49 L165.59 496.19 L166.84 494.03 L168.1 491.99 L169.35 490.07 L170.6 488.25 L171.86 486.52 L173.11 484.89 L174.36 483.34 L175.62 481.87 L176.87 480.47 L178.13 479.13 L179.38 477.85 L180.63 476.64 L181.89 475.47 L183.14 474.36 L184.39 473.29 L185.65 472.27 L186.9 471.28 L188.16 470.34 L189.41 469.43 L190.66 468.56 L191.92 467.72 L193.17 466.91 L194.42 466.13 L195.68 465.38 L196.93 464.65 L198.18 463.95 L199.44 463.27 L200.69 462.62 L201.95 461.98 L203.2 461.37 L204.45 460.78 L205.71 460.2 L206.96 459.64 L208.21 459.1 L209.47 458.57 L210.72 458.06 L211.97 457.57 L213.23 457.09 L214.48 456.62 L215.74 456.16 L216.99 455.72 L218.24 455.29 L219.5 454.87 L220.75 454.46 L222 454.06 L223.26 453.67 L224.51 453.3 L225.77 452.93 L227.02 452.57 L228.27 452.22 L229.53 451.87 L230.78 451.54 L232.03 451.21 L233.29 450.89 L234.54 450.58 L235.79 450.28 L237.05 449.98 L238.3 449.69 L239.56 449.4 L240.81 449.12 L242.06 448.85 L243.32 448.58 L244.57 448.32 L245.82 448.07 L247.08 447.82 L248.33 447.57 L249.59 447.33 L250.84 447.09 L252.09 446.86 L253.35 446.63 L254.6 446.41 L255.85 446.19 L257.11 445.98 L258.36 445.77 L259.61 445.56 L260.87 445.36 L262.12 445.16 L263.38 444.97 L264.63 444.77 L265.88 444.59 L267.14 444.4 L268.39 444.22 L269.64 444.04 L270.9 443.87 L272.15 443.69 L273.41 443.52 L274.66 443.36 L275.91 443.19 L277.17 443.03 L278.42 442.87 L279.67 442.72 L280.93 442.56 L282.18 442.41 L283.43 442.26 L284.69 442.12 L285.94 441.97 L287.2 441.83 L288.45 441.69 L289.7 441.55 L290.96 441.42 L292.21 441.29 L293.46 441.15 L294.72 441.02 L295.97 440.9 L297.23 440.77 L298.48 440.65 L299.73 440.52 L300.99 440.4 L302.24 440.29" fill="none" stroke="#000" stroke-width="2.0" stroke-linejoin="round"/>
<circle cx="149.13" cy="549.46" r="2.6" fill="#000"/>
<circle cx="153.05" cy="532.97" r="2.6" fill="#000"/>
<circle cx="156.98" cy="517.65" r="2.6" fill="#000"/>
<circle cx="160.9" cy="506.31" r="2.6" fill="#000"/>
<circle cx="164.83" cy="501.11" r="2.6" fill="#000"/>
<circle cx="174.64" cy="479.37" r="2.6" fill="#000"/>
<circle cx="184.46" cy="468.49" r="2.6" fill="#000"/>
<line x1="223.72" y1="448.64" x2="223.72" y2="442.97" stroke="#000" stroke-width="1.4"/>
<line x1="220.97" y1="448.64" x2="226.47" y2="448.64" stroke="#000" stroke-width="1.6"/>
<line x1="220.97" y1="442.97" x2="226.47" y2="442.97" stroke="#000" stroke-width="1.6"/>
<circle cx="223.72" cy="445.81" r="2.6" fill="#000"/>
<circle cx="262.98" cy="437.3" r="2.6" fill="#000"/>
<circle cx="302.24" cy="457.15" r="2.6" fill="#000"/>
<rect x="145.2" y="426.9" width="196.3" height="141.8" fill="none" stroke="#000" stroke-width="2.2"/>
<line x1="141.9" y1="568.7" x2="145.2" y2="568.7" stroke="#000" stroke-width="1.8"/>
<text transform="translate(141.4,572.2) scale(0.93,1.1)" font-size="9.0" text-anchor="end">0</text>
<line x1="141.9" y1="521.43" x2="145.2" y2="521.43" stroke="#000" stroke-width="1.8"/>
<text transform="translate(141.4,524.93) scale(0.93,1.1)" font-size="9.0" text-anchor="end">10</text>
<line x1="141.9" y1="474.17" x2="145.2" y2="474.17" stroke="#000" stroke-width="1.8"/>
<text transform="translate(141.4,477.67) scale(0.93,1.1)" font-size="9.0" text-anchor="end">20</text>
<line x1="141.9" y1="426.9" x2="145.2" y2="426.9" stroke="#000" stroke-width="1.8"/>
<text transform="translate(141.4,430.4) scale(0.93,1.1)" font-size="9.0" text-anchor="end">30</text>
<line x1="145.2" y1="568.7" x2="145.2" y2="572" stroke="#000" stroke-width="1.8"/>
<text transform="translate(145.2,579.3) scale(0.93,1.1)" font-size="9.0" text-anchor="middle">0</text>
<line x1="184.46" y1="568.7" x2="184.46" y2="572" stroke="#000" stroke-width="1.8"/>
<text transform="translate(184.46,579.3) scale(0.93,1.1)" font-size="9.0" text-anchor="middle">100</text>
<line x1="223.72" y1="568.7" x2="223.72" y2="572" stroke="#000" stroke-width="1.8"/>
<text transform="translate(223.72,579.3) scale(0.93,1.1)" font-size="9.0" text-anchor="middle">200</text>
<line x1="262.98" y1="568.7" x2="262.98" y2="572" stroke="#000" stroke-width="1.8"/>
<text transform="translate(262.98,579.3) scale(0.93,1.1)" font-size="9.0" text-anchor="middle">300</text>
<line x1="302.24" y1="568.7" x2="302.24" y2="572" stroke="#000" stroke-width="1.8"/>
<text transform="translate(302.24,579.3) scale(0.93,1.1)" font-size="9.0" text-anchor="middle">400</text>
<line x1="341.5" y1="568.7" x2="341.5" y2="572" stroke="#000" stroke-width="1.8"/>
<text transform="translate(341.5,579.3) scale(0.93,1.1)" font-size="9.0" text-anchor="middle">500</text>
<text transform="translate(122.6,497.5) rotate(-90) scale(1,1.12)" font-size="9.3" text-anchor="middle">Initial velocity (&#956;M/min)</text>
<text transform="translate(243.6,593.5) scale(1,1.12)" font-size="9.7" text-anchor="middle">[Diacetyl] mM</text>
<text transform="translate(392,418.9) scale(0.92,1.02)" font-size="14.5">(G)</text>
<path d="M428 570 L429.03 566.86 L430.05 563.84 L431.08 560.94 L432.1 558.15 L433.13 555.47 L434.15 552.88 L435.18 550.39 L436.2 547.99 L437.23 545.67 L438.25 543.42 L439.28 541.26 L440.3 539.16 L441.33 537.14 L442.35 535.18 L443.38 533.28 L444.4 531.43 L445.43 529.65 L446.45 527.92 L447.48 526.24 L448.5 524.61 L449.53 523.03 L450.55 521.49 L451.58 519.99 L452.6 518.54 L453.63 517.12 L454.65 515.74 L455.68 514.4 L456.7 513.1 L457.73 511.83 L458.75 510.59 L459.78 509.38 L460.81 508.2 L461.83 507.05 L462.86 505.93 L463.88 504.84 L464.91 503.77 L465.93 502.72 L466.96 501.7 L467.98 500.71 L469.01 499.73 L470.03 498.78 L471.06 497.85 L472.08 496.94 L473.11 496.05 L474.13 495.18 L475.16 494.33 L476.18 493.49 L477.21 492.67 L478.23 491.87 L479.26 491.09 L480.28 490.32 L481.31 489.56 L482.33 488.82 L483.36 488.1 L484.38 487.39 L485.41 486.69 L486.43 486.01 L487.46 485.34 L488.48 484.68 L489.51 484.03 L490.53 483.4 L491.56 482.77 L492.58 482.16 L493.61 481.56 L494.64 480.97 L495.66 480.39 L496.69 479.82 L497.71 479.26 L498.74 478.71 L499.76 478.17 L500.79 477.63 L501.81 477.11 L502.84 476.6 L503.86 476.09 L504.89 475.59 L505.91 475.1 L506.94 474.62 L507.96 474.14 L508.99 473.68 L510.01 473.22 L511.04 472.76 L512.06 472.32 L513.09 471.88 L514.11 471.44 L515.14 471.02 L516.16 470.6 L517.19 470.18 L518.21 469.78 L519.24 469.38 L520.26 468.98 L521.29 468.59 L522.31 468.2 L523.34 467.83 L524.36 467.45 L525.39 467.08 L526.42 466.72 L527.44 466.36 L528.47 466.01 L529.49 465.66 L530.52 465.31 L531.54 464.97 L532.57 464.64 L533.59 464.31 L534.62 463.98 L535.64 463.66 L536.67 463.34 L537.69 463.03 L538.72 462.72 L539.74 462.41 L540.77 462.11 L541.79 461.81 L542.82 461.52 L543.84 461.23 L544.87 460.94 L545.89 460.66 L546.92 460.38 L547.94 460.1 L548.97 459.83 L549.99 459.56 L551.02 459.29 L552.04 459.02 L553.07 458.76 L554.09 458.51 L555.12 458.25 L556.14 458 L557.17 457.75 L558.19 457.5 L559.22 457.26 L560.25 457.02 L561.27 456.78 L562.3 456.55 L563.32 456.31 L564.35 456.08 L565.37 455.86 L566.4 455.63 L567.42 455.41 L568.45 455.19 L569.47 454.97 L570.5 454.75 L571.52 454.54 L572.55 454.33 L573.57 454.12 L574.6 453.91 L575.62 453.71 L576.65 453.51 L577.67 453.31 L578.7 453.11 L579.72 452.91 L580.75 452.72 L581.77 452.53 L582.8 452.34 L583.82 452.15 L584.85 451.96 L585.87 451.78 L586.9 451.59 L587.92 451.41 L588.95 451.23 L589.97 451.05 L591 450.88" fill="none" stroke="#000" stroke-width="2.0" stroke-linejoin="round"/>
<circle cx="432.07" cy="564.78" r="2.6" fill="#000"/>
<circle cx="434.52" cy="556.71" r="2.6" fill="#000"/>
<circle cx="436.15" cy="554.81" r="2.6" fill="#000"/>
<circle cx="444.3" cy="531.31" r="2.6" fill="#000"/>
<line x1="460.6" y1="511.38" x2="460.6" y2="500.94" stroke="#000" stroke-width="1.4"/>
<line x1="457.85" y1="511.38" x2="463.35" y2="511.38" stroke="#000" stroke-width="1.6"/>
<line x1="457.85" y1="500.94" x2="463.35" y2="500.94" stroke="#000" stroke-width="1.6"/>
<circle cx="460.6" cy="506.16" r="2.6" fill="#000"/>
<circle cx="476.9" cy="491.44" r="2.6" fill="#000"/>
<circle cx="493.2" cy="477.91" r="2.6" fill="#000"/>
<line x1="509.5" y1="472.93" x2="509.5" y2="467.71" stroke="#000" stroke-width="1.4"/>
<line x1="506.75" y1="472.93" x2="512.25" y2="472.93" stroke="#000" stroke-width="1.6"/>
<line x1="506.75" y1="467.71" x2="512.25" y2="467.71" stroke="#000" stroke-width="1.6"/>
<circle cx="509.5" cy="470.32" r="2.6" fill="#000"/>
<line x1="525.8" y1="465.81" x2="525.8" y2="459.64" stroke="#000" stroke-width="1.4"/>
<line x1="523.05" y1="465.81" x2="528.55" y2="465.81" stroke="#000" stroke-width="1.6"/>
<line x1="523.05" y1="459.64" x2="528.55" y2="459.64" stroke="#000" stroke-width="1.6"/>
<circle cx="525.8" cy="462.73" r="2.6" fill="#000"/>
<line x1="550.25" y1="458.69" x2="550.25" y2="451.57" stroke="#000" stroke-width="1.4"/>
<line x1="547.5" y1="458.69" x2="553" y2="458.69" stroke="#000" stroke-width="1.6"/>
<line x1="547.5" y1="451.57" x2="553" y2="451.57" stroke="#000" stroke-width="1.6"/>
<circle cx="550.25" cy="455.13" r="2.6" fill="#000"/>
<line x1="591" y1="464.62" x2="591" y2="460.83" stroke="#000" stroke-width="1.4"/>
<line x1="588.25" y1="464.62" x2="593.75" y2="464.62" stroke="#000" stroke-width="1.6"/>
<line x1="588.25" y1="460.83" x2="593.75" y2="460.83" stroke="#000" stroke-width="1.6"/>
<circle cx="591" cy="462.73" r="2.6" fill="#000"/>
<rect x="428" y="427.6" width="195.6" height="142.4" fill="none" stroke="#000" stroke-width="2.2"/>
<line x1="424.7" y1="570" x2="428" y2="570" stroke="#000" stroke-width="1.8"/>
<text transform="translate(424.2,573.5) scale(0.93,1.1)" font-size="9.0" text-anchor="end">0</text>
<line x1="424.7" y1="522.53" x2="428" y2="522.53" stroke="#000" stroke-width="1.8"/>
<text transform="translate(424.2,526.03) scale(0.93,1.1)" font-size="9.0" text-anchor="end">10</text>
<line x1="424.7" y1="475.07" x2="428" y2="475.07" stroke="#000" stroke-width="1.8"/>
<text transform="translate(424.2,478.57) scale(0.93,1.1)" font-size="9.0" text-anchor="end">20</text>
<line x1="424.7" y1="427.6" x2="428" y2="427.6" stroke="#000" stroke-width="1.8"/>
<text transform="translate(424.2,431.1) scale(0.93,1.1)" font-size="9.0" text-anchor="end">30</text>
<line x1="428" y1="570" x2="428" y2="573.3" stroke="#000" stroke-width="1.8"/>
<text transform="translate(428,581.4) scale(0.93,1.1)" font-size="9.0" text-anchor="middle">0</text>
<line x1="476.9" y1="570" x2="476.9" y2="573.3" stroke="#000" stroke-width="1.8"/>
<text transform="translate(476.9,581.4) scale(0.93,1.1)" font-size="9.0" text-anchor="middle">300</text>
<line x1="525.8" y1="570" x2="525.8" y2="573.3" stroke="#000" stroke-width="1.8"/>
<text transform="translate(525.8,581.4) scale(0.93,1.1)" font-size="9.0" text-anchor="middle">600</text>
<line x1="574.7" y1="570" x2="574.7" y2="573.3" stroke="#000" stroke-width="1.8"/>
<text transform="translate(574.7,581.4) scale(0.93,1.1)" font-size="9.0" text-anchor="middle">900</text>
<line x1="623.6" y1="570" x2="623.6" y2="573.3" stroke="#000" stroke-width="1.8"/>
<text transform="translate(623.6,581.4) scale(0.93,1.1)" font-size="9.0" text-anchor="middle">1200</text>
<text transform="translate(408.2,498.2) rotate(-90) scale(1,1.12)" font-size="9.3" text-anchor="middle">Initial velocity (&#956;M/min)</text>
<text transform="translate(525.7,598.6) scale(1,1.12)" font-size="9.7" text-anchor="middle">[NADPH] &#956;M</text>
</svg>
</body></html>
